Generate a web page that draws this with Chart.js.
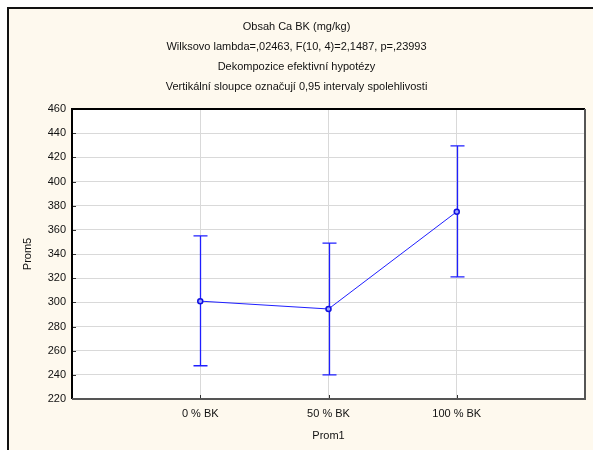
<!DOCTYPE html>
<html>
<head>
<meta charset="utf-8">
<script src="https://cdn.jsdelivr.net/npm/chart.js@4/dist/chart.umd.min.js"></script>
<style>
  html, body { margin: 0; padding: 0; background: #fff; }
  #wrap { position: relative; width: 593px; height: 450px; overflow: hidden; }
  #frame {
    position: absolute; left: 7px; top: 7px; width: 600px; height: 460px;
    background: #fef9ee; border: 2px solid #111; box-sizing: border-box;
  }
  #chart { position: absolute; left: 0; top: 0; }
</style>
</head>
<body>
<div id="wrap">
  <div id="frame"></div>
  <canvas id="chart" width="593" height="450"></canvas>
</div>
<script>
// Prom1 úrovně a průměry Prom5 s 0,95 intervaly spolehlivosti
const categories = ['0 % BK', '50 % BK', '100 % BK'];
const means = [301, 294.5, 375];
const lower = [247.5, 240, 321];
const upper = [355, 349, 429.5];
const yTicks = [220, 240, 260, 280, 300, 320, 340, 360, 380, 400, 420, 440, 460];

const titleLines = [
  'Obsah Ca BK (mg/kg)',
  'Wilksovo lambda=,02463, F(10, 4)=2,1487, p=,23993',
  'Dekompozice efektivní hypotézy',
  'Vertikální sloupce označují 0,95 intervaly spolehlivosti'
];

// prázdné krajní kategorie, aby body ležely uvnitř grafu
const labels = [''].concat(categories, ['']);
const values = [null].concat(means, [null]);

const FONT = 'Liberation Sans, Arial, sans-serif';
const BLUE = '#1f1fff';

const plotFrame = {
  id: 'plotFrame',
  beforeDraw(chart) {
    const { ctx, chartArea: a } = chart;
    ctx.save();
    ctx.fillStyle = '#fff';
    ctx.fillRect(a.left, a.top, a.right - a.left, a.bottom - a.top);
    ctx.restore();
  },
  beforeDatasetsDraw(chart) {
    const { ctx, chartArea: a, scales } = chart;
    ctx.save();
    // krátké vnitřní značky na osách
    ctx.strokeStyle = '#333';
    ctx.lineWidth = 1;
    ctx.beginPath();
    yTicks.forEach(v => {
      const y = Math.round(scales.y.getPixelForValue(v)) + 0.5;
      ctx.moveTo(a.left, y);
      ctx.lineTo(a.left + 4, y);
    });
    categories.forEach((c, i) => {
      const x = Math.round(scales.x.getPixelForValue(i + 1)) + 0.5;
      ctx.moveTo(x, a.bottom);
      ctx.lineTo(x, a.bottom - 4);
    });
    ctx.stroke();
    ctx.lineWidth = 2;
    ctx.strokeStyle = '#000';
    ctx.beginPath();
    ctx.moveTo(a.left, a.bottom);
    ctx.lineTo(a.left, a.top);
    ctx.lineTo(a.right, a.top);
    ctx.stroke();
    ctx.strokeStyle = '#555';
    ctx.beginPath();
    ctx.moveTo(a.right, a.top);
    ctx.lineTo(a.right, a.bottom);
    ctx.lineTo(a.left, a.bottom);
    ctx.stroke();

    // chybové úsečky
    ctx.strokeStyle = BLUE;
    ctx.lineWidth = 1.3;
    ctx.beginPath();
    categories.forEach((c, i) => {
      const x = Math.round(scales.x.getPixelForValue(i + 1)) + 0.5;
      const y1 = scales.y.getPixelForValue(lower[i]);
      const y2 = scales.y.getPixelForValue(upper[i]);
      ctx.moveTo(x, y1);
      ctx.lineTo(x, y2);
      ctx.moveTo(x - 7, y1);
      ctx.lineTo(x + 7, y1);
      ctx.moveTo(x - 7, y2);
      ctx.lineTo(x + 7, y2);
    });
    ctx.stroke();
    ctx.restore();
  }
};

new Chart(document.getElementById('chart'), {
  type: 'line',
  data: {
    labels,
    datasets: [{
      data: values,
      borderColor: BLUE,
      borderWidth: 1,
      pointRadius: 2.5,
      pointBorderWidth: 1.5,
      pointBorderColor: '#1010e0',
      pointBackgroundColor: '#9fa6ff',
      tension: 0
    }]
  },
  options: {
    responsive: false,
    devicePixelRatio: 1,
    animation: false,
    layout: { autoPadding: false, padding: { left: 4, right: 4, top: 0, bottom: 0 } },
    plugins: {
      legend: { display: false },
      tooltip: { enabled: false },
      title: {
        display: true,
        text: titleLines,
        color: '#111',
        font: { family: FONT, size: 11, weight: 'normal', lineHeight: '20px' },
        padding: { top: 17, bottom: 12 }
      }
    },
    scales: {
      x: {
        offset: false,
        grid: { color: '#d9d9d9', drawTicks: false },
        border: { display: false },
        ticks: {
          color: '#111', padding: 8, maxRotation: 0, autoSkip: false,
          font: { family: FONT, size: 11 }
        },
        title: {
          display: true, text: 'Prom1', color: '#111',
          font: { family: FONT, size: 11 }, padding: { top: 0, bottom: 7 }
        },
        afterFit(scale) { scale.height = 51; }
      },
      y: {
        min: 220,
        max: 460,
        grid: { color: '#d9d9d9', drawTicks: false },
        border: { display: false },
        afterBuildTicks(scale) { scale.ticks = yTicks.map(v => ({ value: v })); },
        ticks: {
          color: '#111', padding: 6,
          font: { family: FONT, size: 11 }
        },
        title: {
          display: true, text: 'Prom5', color: '#111',
          font: { family: FONT, size: 11 }, padding: { top: 17, bottom: 0 }
        },
        afterFit(scale) { scale.width = 68; }
      }
    }
  },
  plugins: [plotFrame]
});
</script>
</body>
</html>
